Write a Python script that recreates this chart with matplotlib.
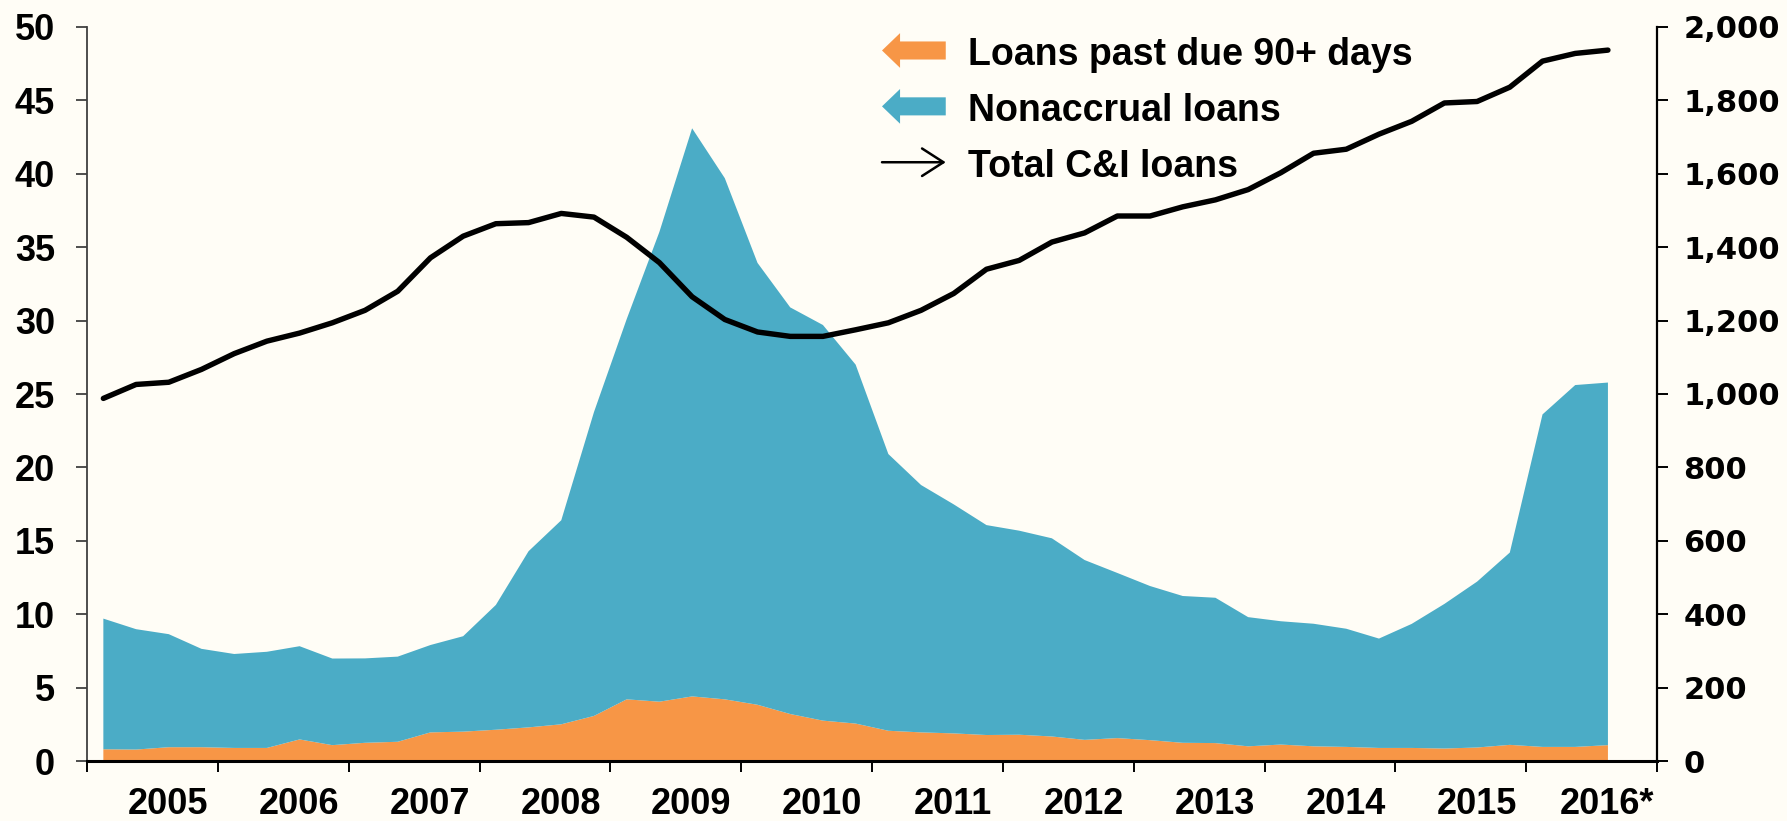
import matplotlib
matplotlib.use('Agg')
import matplotlib.pyplot as plt
import numpy as np
from matplotlib.patches import FancyArrow, FancyArrowPatch, Patch
from matplotlib.legend_handler import HandlerBase
from matplotlib.ticker import FixedLocator, FixedFormatter, NullFormatter

# ---------------- data (quarterly, 2005Q1 .. 2016Q3) ----------------
first_year = 2005
past_due = [0.80, 0.78, 0.94, 0.94, 0.89, 0.89, 1.47, 1.08, 1.24, 1.31,
            1.95, 2.00, 2.13, 2.29, 2.50, 3.07, 4.20, 4.04, 4.40, 4.20,
            3.83, 3.20, 2.75, 2.55, 2.06, 1.95, 1.88, 1.77, 1.79, 1.67,
            1.44, 1.56, 1.42, 1.24, 1.22, 1.00, 1.12, 1.00, 0.96, 0.89,
            0.89, 0.85, 0.92, 1.10, 0.96, 0.96, 1.08]
nonaccrual = [8.90, 8.20, 7.70, 6.70, 6.40, 6.55, 6.35, 5.90, 5.75, 5.80,
              5.95, 6.50, 8.50, 12.00, 13.90, 20.70, 25.90, 32.00, 38.70, 35.50,
              30.10, 27.70, 26.95, 24.45, 18.85, 16.85, 15.60, 14.30, 13.90, 13.50,
              12.25, 11.25, 10.50, 10.00, 9.90, 8.80, 8.40, 8.35, 8.05, 7.45,
              8.45, 9.85, 11.30, 13.10, 22.65, 24.65, 24.70]
total_ci = [988, 1026, 1032, 1067, 1110, 1144, 1166, 1194, 1228, 1280,
            1371, 1430, 1464, 1467, 1492, 1482, 1427, 1358, 1265, 1203,
            1169, 1157, 1157, 1175, 1194, 1228, 1274, 1340, 1364, 1414,
            1439, 1485, 1485, 1510, 1529, 1557, 1603, 1656, 1667, 1708,
            1743, 1793, 1797, 1836, 1907, 1928, 1937]

year_labels = ['2005', '2006', '2007', '2008', '2009', '2010', '2011',
               '2012', '2013', '2014', '2015', '2016*']
left_ticks = [0, 5, 10, 15, 20, 25, 30, 35, 40, 45, 50]
right_ticks = [0, 200, 400, 600, 800, 1000, 1200, 1400, 1600, 1800, 2000]
right_labels = ['0', '200', '400', '600', '800', '1,000', '1,200', '1,400',
                '1,600', '1,800', '2,000']
series_names = ['Loans past due 90+ days', 'Nonaccrual loans', 'Total C&I loans']

# ---------------- style ----------------
BG = '#FFFDF6'
ORANGE = '#F79646'
BLUE = '#4BACC6'
plt.rcParams['font.family'] = ['Liberation Sans', 'DejaVu Sans']
plt.rcParams['font.weight'] = 'bold'

quarter_pos = first_year + 0.125 + 0.25 * np.arange(len(past_due))

fig = plt.figure(figsize=(17.87, 8.21), dpi=100, facecolor=BG)
ax = fig.add_axes([87 / 1787, 60 / 821, 1570 / 1787, 734 / 821])
ax.set_facecolor(BG)

ax.stackplot(quarter_pos, past_due, nonaccrual, colors=[ORANGE, BLUE],
             linewidth=0)
ax.set_xlim(first_year, first_year + len(year_labels))
ax.set_ylim(0, 50)

ax2 = ax.twinx()
ax2.plot(quarter_pos, total_ci, color='black', lw=3.9,
         solid_joinstyle='round', solid_capstyle='round')
ax2.set_ylim(0, 2000)

# spines
ax.spines['top'].set_visible(False)
ax.spines['right'].set_visible(False)
ax2.spines['top'].set_visible(False)
ax2.spines['left'].set_visible(False)
ax2.spines['bottom'].set_visible(False)
ax.spines['left'].set_color('#404040')
ax.spines['left'].set_linewidth(1.3)
ax.spines['bottom'].set_color('black')
ax.spines['bottom'].set_linewidth(2.2)
ax2.spines['right'].set_color('black')
ax2.spines['right'].set_linewidth(1.6)

# x ticks
years = [first_year + i for i in range(len(year_labels) + 1)]
ax.xaxis.set_major_locator(FixedLocator(years))
ax.xaxis.set_major_formatter(NullFormatter())
ax.xaxis.set_minor_locator(FixedLocator([first_year + i + 0.62 for i in range(len(year_labels))]))
ax.xaxis.set_minor_formatter(FixedFormatter(year_labels))
ax.tick_params(axis='x', which='major', direction='out', length=8, width=1.4, color='black')
ax.tick_params(axis='x', which='minor', length=0, pad=19, labelsize=26)

# left y ticks
ax.set_yticks(left_ticks)
ax.set_yticklabels([str(v) for v in left_ticks])
ax.tick_params(axis='y', direction='out', length=8, width=1.3, color='#404040',
               labelsize=26, pad=15)

# right y ticks
ax2.set_yticks(right_ticks)
ax2.set_yticklabels(right_labels, fontfamily='DejaVu Sans', fontweight='bold')
ax2.tick_params(axis='y', direction='out', length=8, width=1.4, color='black',
                labelsize=22, pad=11)

for lab in ax.get_xticklabels(minor=True) + ax.get_yticklabels():
    lab.set_fontweight('bold')


# ---------------- legend with arrow handles ----------------
class FatArrowHandler(HandlerBase):
    def __init__(self, color):
        super().__init__()
        self.color = color

    def create_artists(self, legend, orig_handle, xdescent, ydescent,
                       width, height, fontsize, trans):
        x0 = -xdescent
        yc = height / 2 - ydescent + 1
        arr = FancyArrow(x0 + width, yc, -width, 0, width=13, head_width=25,
                         head_length=13, length_includes_head=True,
                         fc=self.color, ec='none', transform=trans)
        return [arr]


class ThinArrowHandler(HandlerBase):
    def create_artists(self, legend, orig_handle, xdescent, ydescent,
                       width, height, fontsize, trans):
        x0 = -xdescent
        yc = height / 2 - ydescent + 1
        arr = FancyArrowPatch((x0, yc), (x0 + width, yc),
                              arrowstyle='->,head_length=0.7,head_width=0.45',
                              mutation_scale=22, lw=1.8, color='black',
                              shrinkA=0, shrinkB=0, transform=trans)
        return [arr]


h1, h2, h3 = Patch(), Patch(), Patch()
leg = fig.legend([h1, h2, h3], series_names,
                 handler_map={h1: FatArrowHandler(ORANGE),
                              h2: FatArrowHandler(BLUE),
                              h3: ThinArrowHandler()},
                 loc='upper left', bbox_to_anchor=(882 / 1787, 1 - 37 / 821),
                 frameon=False, borderpad=0, borderaxespad=0,
                 handlelength=1.7, handleheight=0.7, handletextpad=0.6,
                 labelspacing=0.53, prop={'family': 'Liberation Sans',
                                          'weight': 'bold', 'size': 27})

fig.savefig('out.png', dpi=100, facecolor=BG)
